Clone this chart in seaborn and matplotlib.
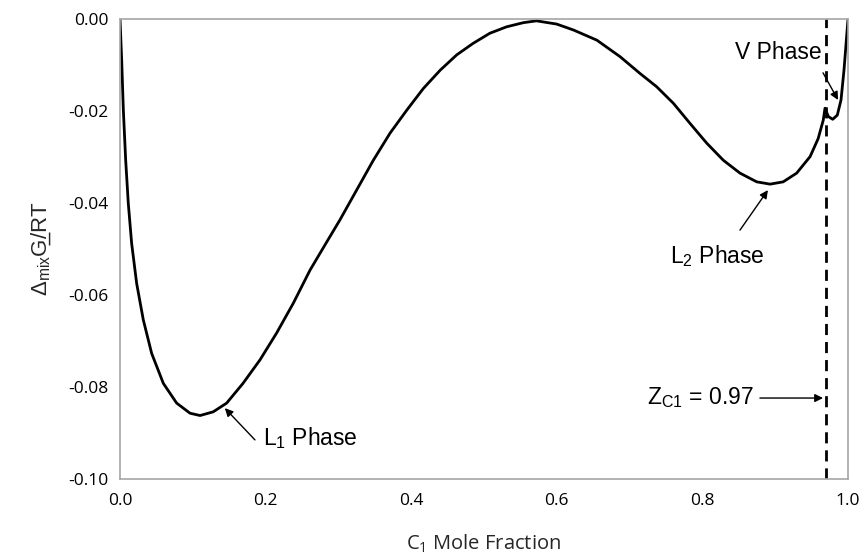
import matplotlib
matplotlib.use("Agg")
import matplotlib.pyplot as plt
import seaborn as sns

# ---- data ----
x_c1 = [0.000, 0.0023, 0.0046, 0.0078, 0.0114, 0.016, 0.0229, 0.032, 0.0435, 0.0595,
        0.0778, 0.0962, 0.110, 0.128, 0.1465, 0.169, 0.1923, 0.215, 0.238, 0.261,
        0.282, 0.302, 0.325, 0.348, 0.371, 0.394, 0.4167, 0.440, 0.4625, 0.485,
        0.508, 0.531, 0.554, 0.572, 0.5998, 0.623, 0.655, 0.687, 0.714, 0.737,
        0.760, 0.783, 0.806, 0.8287, 0.8516, 0.8746, 0.893, 0.911, 0.9295, 0.948,
        0.959, 0.966, 0.9684, 0.973, 0.979, 0.9853, 0.9904, 0.9945, 1.000]
g_mix = [0.0000, -0.0089, -0.0198, -0.0307, -0.0401, -0.0488, -0.0575, -0.0654, -0.0727, -0.0792,
         -0.0835, -0.0857, -0.0862, -0.0854, -0.0835, -0.0792, -0.0741, -0.0683, -0.0618, -0.0546,
         -0.0490, -0.0437, -0.0372, -0.0307, -0.0248, -0.0198, -0.0151, -0.0111, -0.0078, -0.0053,
         -0.0031, -0.0017, -0.0008, -0.0004, -0.0011, -0.0024, -0.0046, -0.0082, -0.0118, -0.0147,
         -0.0183, -0.0227, -0.0270, -0.0307, -0.0335, -0.0354, -0.0359, -0.0354, -0.0335, -0.0299,
         -0.0260, -0.0220, -0.0194, -0.0212, -0.0218, -0.0209, -0.0176, -0.0111, 0.0000]
z_c1 = 0.97
x_ticks = [0.0, 0.2, 0.4, 0.6, 0.8, 1.0]
y_ticks = [-0.10, -0.08, -0.06, -0.04, -0.02, 0.00]

sns.set_theme(style="white")
plt.rcParams['font.family'] = ['Open Sans', 'DejaVu Sans']
plt.rcParams['mathtext.fontset'] = 'custom'
plt.rcParams['mathtext.rm'] = 'Liberation Sans'
plt.rcParams['mathtext.it'] = 'Liberation Sans:italic'
plt.rcParams['mathtext.bf'] = 'Liberation Sans:bold'

fig = plt.figure(figsize=(8.66, 5.54), dpi=100)
ax = fig.add_axes([120/866, 1-479/554, (848-120)/866, (479-19)/554])

sns.lineplot(x=x_c1, y=g_mix, ax=ax, color='black', lw=2.0, sort=False, estimator=None,
             solid_joinstyle='round', solid_capstyle='round')
ax.axvline(z_c1, color='black', lw=2.0, ls=(0, (4, 2.5)))

ax.set_xlim(0, 1)
ax.set_ylim(-0.10, 0.0)
ax.set_xticks(x_ticks)
ax.set_yticks(y_ticks)
ax.set_xticklabels([f"{v:.1f}" for v in x_ticks])
ax.set_yticklabels([f"{v:.2f}" for v in y_ticks])
gray = '#a6a6a6'
for s in ax.spines.values():
    s.set_visible(True)
    s.set_color(gray)
    s.set_linewidth(1.2)
ax.tick_params(direction='in', length=4, width=1, color=gray, labelsize=12.5,
               labelcolor='black', pad=8)
ax.tick_params(axis='x', pad=10)

ax.set_xlabel(r'C$_\mathregular{1}$ Mole Fraction', fontsize=14.5, labelpad=17)
ax.set_ylabel('$\\Delta_{\\mathregular{mix}}$G\u0332/RT', fontsize=16, labelpad=11,
              family=['Liberation Sans', 'DejaVu Sans'])

afont = dict(family='Liberation Sans', fontsize=16.5, color='black')
arrow = dict(arrowstyle='-|>', color='black', lw=1.0, mutation_scale=12, shrinkA=0, shrinkB=0)

ax.text(0.196, -0.0911, r'L$_\mathregular{1}$ Phase', ha='left', va='center', **afont)
ax.annotate('', xy=(0.144, -0.0846), xytext=(0.1854, -0.0915), arrowprops=arrow)

ax.text(0.7555, -0.0515, r'L$_\mathregular{2}$ Phase', ha='left', va='center', **afont)
ax.annotate('', xy=(0.890, -0.0372), xytext=(0.8516, -0.0459), arrowprops=arrow)

ax.text(0.964, -0.0072, 'V Phase', ha='right', va='center', **afont)
ax.annotate('', xy=(0.9863, -0.0176), xytext=(0.9657, -0.0117), arrowprops=arrow)

ax.text(0.870, -0.0824, r'Z$_\mathregular{C1}$ = 0.97', ha='right', va='center', **afont)
ax.annotate('', xy=(0.9657, -0.0824), xytext=(0.879, -0.0824), arrowprops=arrow)

fig.savefig('out.png', dpi=100)
